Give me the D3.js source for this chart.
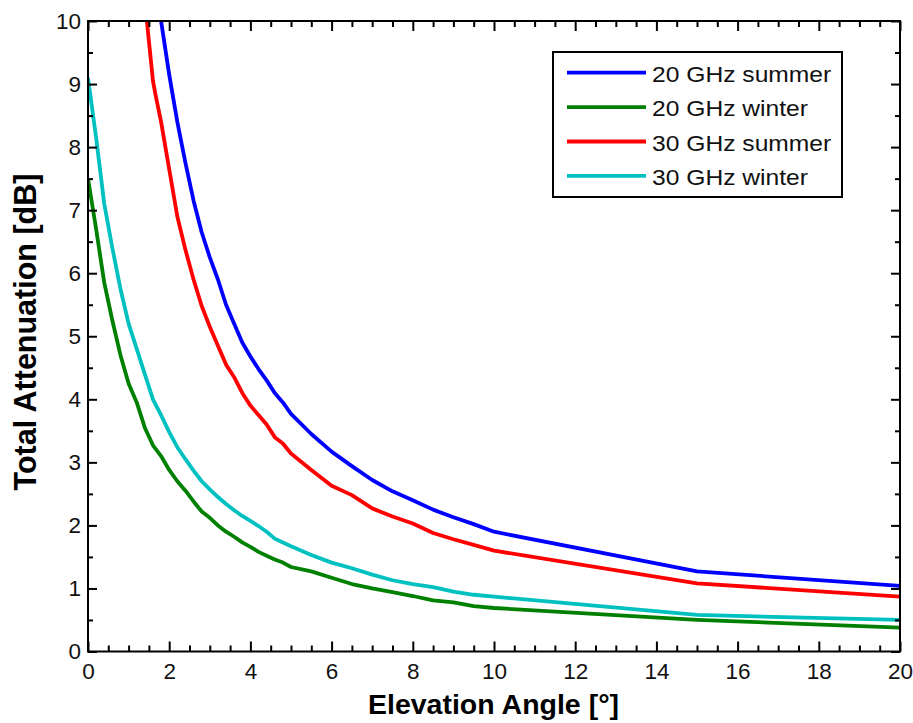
<!DOCTYPE html>
<html>
<head>
<meta charset="utf-8">
<script src="https://cdn.jsdelivr.net/npm/d3@7"></script>
<style>
  html, body { margin: 0; padding: 0; background: #fff; }
  svg { display: block; font-family: "Liberation Sans", Arial, sans-serif; }
</style>
</head>
<body>
<svg id="chart" width="913" height="723"></svg>
<script>
// Total attenuation vs. elevation angle, 20/30 GHz, summer/winter
const seriesNames = ["20 GHz summer", "20 GHz winter", "30 GHz summer", "30 GHz winter"];
const seriesColors = ["#0000ff", "#008000", "#ff0000", "#00c0c0"];

const angles20Summer = [1.7, 1.8, 2.0, 2.2, 2.4, 2.6, 2.8, 3.0, 3.2, 3.4, 3.6, 3.8, 4.0, 4.2, 4.4, 4.6, 4.8, 5.0, 5.5, 6.0, 6.5, 7.0, 7.5, 8.0, 8.5, 9.0, 9.5, 10, 15, 20];
const atten20Summer = [10.5, 10.0, 9.15, 8.4, 7.75, 7.15, 6.65, 6.25, 5.9, 5.5, 5.2, 4.9, 4.68, 4.48, 4.3, 4.1, 3.95, 3.77, 3.45, 3.17, 2.94, 2.72, 2.54, 2.4, 2.25, 2.13, 2.02, 1.9, 1.27, 1.04];

const angles30Summer = [1.4, 1.45, 1.6, 1.66, 1.8, 2.0, 2.2, 2.4, 2.6, 2.8, 3.0, 3.2, 3.4, 3.6, 3.8, 4.0, 4.2, 4.4, 4.6, 4.8, 5.0, 5.5, 6.0, 6.5, 7.0, 7.5, 8.0, 8.5, 9.0, 9.5, 10, 15, 20];
const atten30Summer = [10.3, 10.0, 9.05, 8.84, 8.4, 7.65, 6.9, 6.37, 5.9, 5.48, 5.15, 4.85, 4.55, 4.35, 4.1, 3.9, 3.75, 3.6, 3.4, 3.3, 3.14, 2.88, 2.63, 2.48, 2.27, 2.14, 2.03, 1.88, 1.78, 1.69, 1.6, 1.08, 0.87];

const anglesWinter = [0, 0.2, 0.4, 0.6, 0.8, 1.0, 1.2, 1.4, 1.6, 1.8, 2.0, 2.2, 2.4, 2.6, 2.8, 3.0, 3.2, 3.4, 3.6, 3.8, 4.0, 4.2, 4.4, 4.6, 4.8, 5.0, 5.5, 6.0, 6.5, 7.0, 7.5, 8.0, 8.5, 9.0, 9.5, 10, 15, 20];
const atten20Winter = [7.5, 6.7, 5.85, 5.25, 4.7, 4.25, 3.95, 3.55, 3.27, 3.1, 2.88, 2.7, 2.55, 2.38, 2.22, 2.12, 2.0, 1.9, 1.82, 1.73, 1.66, 1.58, 1.52, 1.46, 1.41, 1.34, 1.27, 1.17, 1.07, 1.0, 0.94, 0.88, 0.81, 0.78, 0.72, 0.69, 0.5, 0.38];
const atten30Winter = [9.1, 8.15, 7.1, 6.4, 5.75, 5.2, 4.8, 4.4, 4.0, 3.75, 3.48, 3.24, 3.05, 2.87, 2.7, 2.57, 2.45, 2.34, 2.24, 2.15, 2.07, 1.99, 1.9, 1.79, 1.73, 1.67, 1.53, 1.41, 1.32, 1.22, 1.13, 1.07, 1.02, 0.95, 0.9, 0.87, 0.58, 0.5];

const xTicks = [0, 2, 4, 6, 8, 10, 12, 14, 16, 18, 20];
const yTicks = [0, 1, 2, 3, 4, 5, 6, 7, 8, 9, 10];

const series = [
  { name: seriesNames[0], color: seriesColors[0], xs: angles20Summer, ys: atten20Summer },
  { name: seriesNames[1], color: seriesColors[1], xs: anglesWinter, ys: atten20Winter },
  { name: seriesNames[2], color: seriesColors[2], xs: angles30Summer, ys: atten30Summer },
  { name: seriesNames[3], color: seriesColors[3], xs: anglesWinter, ys: atten30Winter }
];

const svg = d3.select("#chart");
const plotLeft = 88, plotRight = 900, plotTop = 21, plotBottom = 651.5;

const x = d3.scaleLinear().domain([0, 20]).range([plotLeft, plotRight]);
const y = d3.scaleLinear().domain([0, 10]).range([plotBottom, plotTop]);

// clip lines to plot area
svg.append("defs").append("clipPath").attr("id", "plotClip")
  .append("rect").attr("x", plotLeft).attr("y", plotTop)
  .attr("width", plotRight - plotLeft).attr("height", plotBottom - plotTop);

const line = d3.line().x(d => x(d[0])).y(d => y(d[1]));

const lines = svg.append("g").attr("clip-path", "url(#plotClip)");
series.forEach(s => {
  lines.append("path")
    .datum(s.xs.map((v, i) => [v, s.ys[i]]))
    .attr("fill", "none")
    .attr("stroke", s.color)
    .attr("stroke-width", 3.8)
    .attr("stroke-linejoin", "round")
    .attr("d", line);
});

// axes: major + minor ticks, inward, mirrored on top/right
const minorX = d3.range(0, 20.01, 0.5).filter(v => v % 2 !== 0);
const minorY = d3.range(0, 10.01, 0.5).filter(v => v % 1 !== 0);
const fontSize = 22.5;

function styleAxis(g) {
  g.select(".domain").remove();
  g.selectAll("line").attr("stroke", "#000").attr("stroke-width", 2);
  g.selectAll("text").attr("font-size", fontSize).attr("fill", "#111");
}

svg.append("g").attr("transform", `translate(0,${plotBottom})`)
  .call(d3.axisBottom(x).tickValues(xTicks).tickFormat(d3.format("d")).tickSizeInner(-10).tickSizeOuter(0).tickPadding(12))
  .call(styleAxis);
svg.append("g").attr("transform", `translate(0,${plotBottom})`)
  .call(d3.axisBottom(x).tickValues(minorX).tickFormat("").tickSizeInner(-6).tickSizeOuter(0))
  .call(styleAxis);
svg.append("g").attr("transform", `translate(0,${plotTop})`)
  .call(d3.axisTop(x).tickValues(xTicks).tickFormat("").tickSizeInner(-10).tickSizeOuter(0))
  .call(styleAxis);
svg.append("g").attr("transform", `translate(0,${plotTop})`)
  .call(d3.axisTop(x).tickValues(minorX).tickFormat("").tickSizeInner(-6).tickSizeOuter(0))
  .call(styleAxis);

svg.append("g").attr("transform", `translate(${plotLeft},0)`)
  .call(d3.axisLeft(y).tickValues(yTicks).tickFormat(d3.format("d")).tickSizeInner(-9).tickSizeOuter(0).tickPadding(7))
  .call(styleAxis);
svg.append("g").attr("transform", `translate(${plotLeft},0)`)
  .call(d3.axisLeft(y).tickValues(minorY).tickFormat("").tickSizeInner(-5).tickSizeOuter(0))
  .call(styleAxis);
svg.append("g").attr("transform", `translate(${plotRight},0)`)
  .call(d3.axisRight(y).tickValues(yTicks).tickFormat("").tickSizeInner(-9).tickSizeOuter(0))
  .call(styleAxis);
svg.append("g").attr("transform", `translate(${plotRight},0)`)
  .call(d3.axisRight(y).tickValues(minorY).tickFormat("").tickSizeInner(-5).tickSizeOuter(0))
  .call(styleAxis);

// frame
svg.append("rect")
  .attr("x", plotLeft).attr("y", plotTop)
  .attr("width", plotRight - plotLeft).attr("height", plotBottom - plotTop)
  .attr("fill", "none").attr("stroke", "#000").attr("stroke-width", 2);

// axis titles
svg.append("text")
  .attr("x", 493.5).attr("y", 713.5)
  .attr("text-anchor", "middle").attr("font-size", 28.5).attr("font-weight", "bold")
  .text("Elevation Angle [°]");
svg.append("text")
  .attr("transform", "translate(35.5,332) rotate(-90)")
  .attr("text-anchor", "middle").attr("font-size", 30.5).attr("font-weight", "bold")
  .text("Total Attenuation [dB]");

// legend
const legend = svg.append("g");
legend.append("rect")
  .attr("x", 553).attr("y", 52).attr("width", 289).attr("height", 145)
  .attr("fill", "#fff").attr("stroke", "#000").attr("stroke-width", 2);
series.forEach((s, i) => {
  const ly = 72.7 + i * 34.4;
  legend.append("line")
    .attr("x1", 567).attr("x2", 646).attr("y1", ly).attr("y2", ly)
    .attr("stroke", s.color).attr("stroke-width", 3.8);
  legend.append("text")
    .attr("transform", `translate(652,${ly + 9}) scale(1.12,1)`)
    .attr("font-size", 22).attr("fill", "#111")
    .text(s.name);
});
</script>
</body>
</html>
